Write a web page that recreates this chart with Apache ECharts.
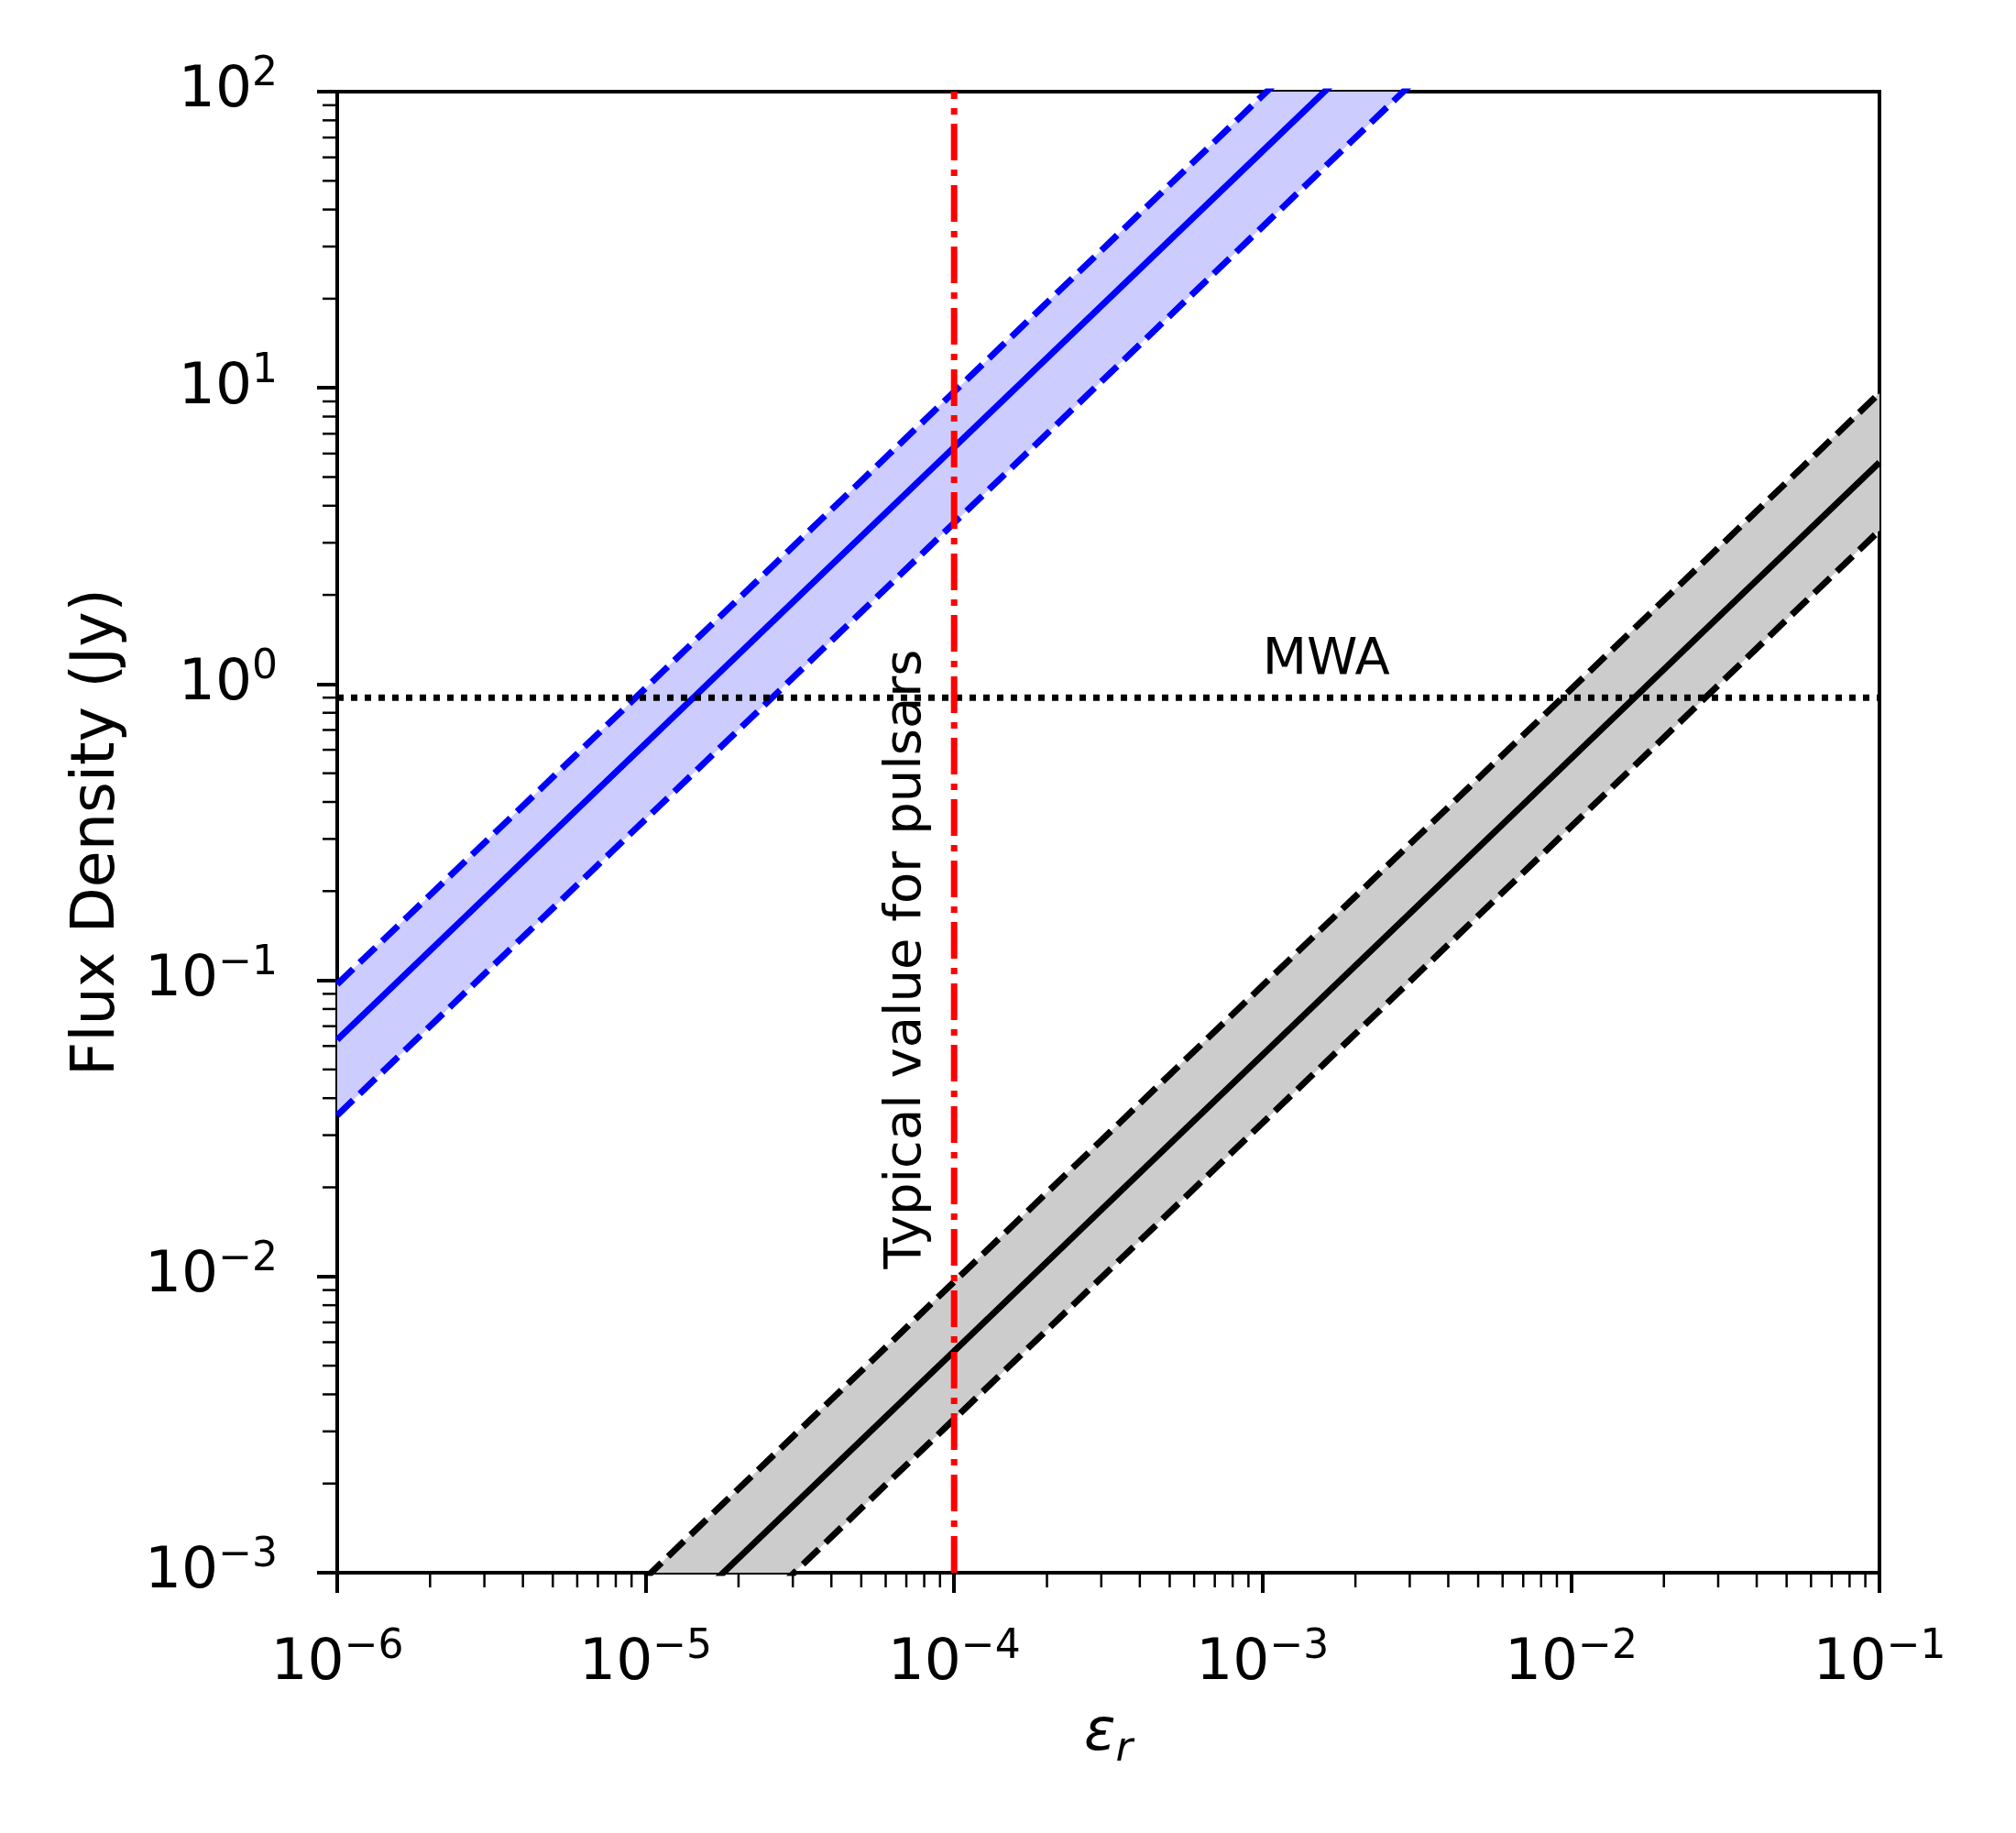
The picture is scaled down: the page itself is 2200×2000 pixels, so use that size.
<!DOCTYPE html>
<html>
<head>
<meta charset="utf-8">
<script src="https://cdn.jsdelivr.net/npm/echarts@6/dist/echarts.min.js"></script>
<style>
html, body { margin: 0; padding: 0; background: #fff; }
#chart { width: 2200px; height: 2000px; }
</style>
</head>
<body>
<div id="chart"></div>
<script>
// values (both axes log)
const epsBlue = [1e-6, 1e-5, 1e-4, 1e-3, 1e-2];
const blueHigh = [0.097, 0.97, 9.7, 97, 970];
const blueMid = [0.063, 0.63, 6.3, 63, 630];
const blueLow = [0.035, 0.35, 3.5, 35, 350];

const epsBlack = [1e-5, 1e-4, 1e-3, 1e-2, 1e-1];
const blackHigh = [0.00096, 0.0096, 0.096, 0.96, 9.6];
const blackMid = [0.00056, 0.0056, 0.056, 0.56, 5.6];
const blackLow = [0.00033, 0.0033, 0.033, 0.33, 3.3];

const mwaLevel = 0.9;
const pulsarEps = 1e-4;

const xTickExps = [-6, -5, -4, -3, -2, -1];
const yTickExps = [-3, -2, -1, 0, 1, 2];

const FONT = '"DejaVu Sans", sans-serif';
const LW = 7;

const chart = echarts.init(document.getElementById('chart'));

function pairs (xs, ys) {
  return xs.map((x, i) => [x, ys[i]]);
}

// 2..9 x 10^n between the decade ticks
function minorValues (exps) {
  const out = [];
  for (let i = 0; i < exps.length - 1; i++) {
    for (let k = 2; k <= 9; k++) out.push(k * Math.pow(10, exps[i]));
  }
  return out;
}

function powLabel (exps) {
  return function (v) {
    const e = Math.round(Math.log10(v));
    if (exps.indexOf(e) < 0) return '';
    return '{b|10}{s|' + String(e).replace('-', '\u2212') + '}';
  };
}

const tickRich = {
  b: { fontSize: 63, fontFamily: FONT, color: '#000', lineHeight: 80, verticalAlign: 'middle' },
  s: { fontSize: 44, fontFamily: FONT, color: '#000', lineHeight: 46, verticalAlign: 'top' }
};

function band (xs, hi, lo, color) {
  return {
    type: 'custom',
    clip: true,
    silent: true,
    z: 1,
    data: xs.map((x, i) => [x, hi[i], lo[i]]),
    encode: { x: 0, y: [1, 2] },
    renderItem: function (params, api) {
      if (params.dataIndex !== 0) return null;
      const top = xs.map((x, i) => api.coord([x, hi[i]]));
      const bot = xs.map((x, i) => api.coord([x, lo[i]])).reverse();
      return { type: 'polygon', shape: { points: top.concat(bot) }, style: { fill: color } };
    }
  };
}

function curve (xs, ys, color, dash, z) {
  return {
    type: 'line',
    data: pairs(xs, ys),
    symbol: 'none',
    showSymbol: false,
    clip: true,
    silent: true,
    z: z || 3,
    lineStyle: { color: color, width: LW, type: dash || 'solid', cap: 'butt' }
  };
}

function textMark (x, y, text, rot, align, vAlign) {
  return {
    type: 'custom',
    silent: true,
    z: 6,
    data: [[x, y]],
    renderItem: function (params, api) {
      const p = api.coord([api.value(0), api.value(1)]);
      return {
        type: 'text',
        x: p[0],
        y: p[1],
        rotation: rot,
        style: { text: text, fill: '#000', font: '56px ' + FONT, align: align, verticalAlign: vAlign }
      };
    }
  };
}

const DASH = [24, 10];

const option = {
  animation: false,
  backgroundColor: '#fff',
  grid: {
    left: 368,
    top: 100,
    width: 1683,
    height: 1616,
    show: true,
    borderColor: '#000',
    borderWidth: 4,
    backgroundColor: 'transparent'
  },
  xAxis: {
    type: 'log',
    min: 1e-6,
    max: 1e-1,
    name: '{e|\u03b5}{r|r}',
    nameLocation: 'middle',
    nameGap: 136,
    nameTextStyle: {
      rich: {
        e: { fontSize: 64, fontFamily: FONT, fontStyle: 'italic', color: '#000', lineHeight: 80, verticalAlign: 'middle' },
        r: { fontSize: 45, fontFamily: FONT, fontStyle: 'italic', color: '#000', lineHeight: 46, verticalAlign: 'bottom' }
      }
    },
    axisLine: { show: true, lineStyle: { color: '#000', width: 4 } },
    axisTick: { show: true, inside: false, length: 22, lineStyle: { color: '#000', width: 4 } },
    axisLabel: { margin: 60, formatter: powLabel(xTickExps), rich: tickRich, showMinLabel: true, showMaxLabel: true },
    splitLine: { show: false }
  },
  yAxis: {
    type: 'log',
    min: 1e-3,
    max: 1e2,
    name: 'Flux Density (Jy)',
    nameLocation: 'middle',
    nameGap: 228,
    nameTextStyle: { fontSize: 65, fontFamily: FONT, color: '#000' },
    axisLine: { show: true, lineStyle: { color: '#000', width: 4 } },
    axisTick: { show: true, inside: false, length: 22, lineStyle: { color: '#000', width: 4 } },
    axisLabel: { margin: 65, formatter: powLabel(yTickExps), rich: tickRich, showMinLabel: true, showMaxLabel: true },
    splitLine: { show: false }
  },
  series: [
    band(epsBlue, blueHigh, blueLow, '#ccccff'),
    band(epsBlack, blackHigh, blackLow, '#cccccc'),
    curve(epsBlue, blueMid, '#0000ff'),
    curve(epsBlue, blueHigh, '#0000ff', DASH),
    curve(epsBlue, blueLow, '#0000ff', DASH),
    curve(epsBlack, blackMid, '#000000'),
    curve(epsBlack, blackHigh, '#000000', DASH),
    curve(epsBlack, blackLow, '#000000', DASH),
    curve([1e-6, 1e-1], [mwaLevel, mwaLevel], '#000000', [7, 8], 4),
    curve([pulsarEps, pulsarEps], [1e-3, 1e2], '#ff0000', [40, 10, 7, 10], 5),
    textMark(1e-3, 1.2, 'MWA', 0, 'left', 'middle'),
    textMark(7e-5, 0.0106, 'Typical value for pulsars', Math.PI / 2, 'left', 'middle'),
    {
      type: 'custom',
      silent: true,
      z: 7,
      data: minorValues(xTickExps).map(v => [v, 1]),
      renderItem: function (params, api) {
        const p = api.coord([api.value(0), 1]);
        const yb = params.coordSys.y + params.coordSys.height;
        return { type: 'line', shape: { x1: p[0], y1: yb, x2: p[0], y2: yb + 16 }, style: { stroke: '#000', lineWidth: 2.5 } };
      }
    },
    {
      type: 'custom',
      silent: true,
      z: 7,
      data: minorValues(yTickExps).map(v => [1e-3, v]),
      renderItem: function (params, api) {
        const p = api.coord([1e-3, api.value(1)]);
        const xl = params.coordSys.x;
        return { type: 'line', shape: { x1: xl, y1: p[1], x2: xl - 16, y2: p[1] }, style: { stroke: '#000', lineWidth: 2.5 } };
      }
    }
  ]
};

chart.setOption(option);
</script>
</body>
</html>
